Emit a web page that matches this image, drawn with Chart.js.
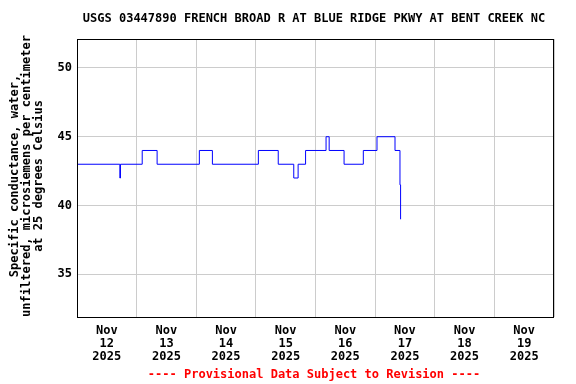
<!DOCTYPE html>
<html>
<head>
<meta charset="utf-8">
<script src="https://cdn.jsdelivr.net/npm/chart.js@4.4.1/dist/chart.umd.min.js"></script>
<style>
html,body{margin:0;padding:0;background:#fff;}
canvas{display:block;}
</style>
</head>
<body>
<canvas id="c" width="576" height="384"></canvas>
<script>
// Data: hours since Nov 12 2025 00:00 and specific conductance values
const hours  = [0, 17.25, 17.5, 26.25, 32.25, 49.25, 54.5, 73, 81, 87.25, 89, 92, 100.25, 101.5, 107.5, 115.25, 120.75, 128, 130, 130.25];
const values = [43, 42, 43, 44, 43, 44, 43, 44, 43, 42, 43, 44, 45, 44, 43, 44, 45, 44, 41.5, 39];
const dayLabels = [
  ['Nov','12','2025'], ['Nov','13','2025'], ['Nov','14','2025'], ['Nov','15','2025'],
  ['Nov','16','2025'], ['Nov','17','2025'], ['Nov','18','2025'], ['Nov','19','2025']
];
const yTicks = [35, 40, 45, 50];
const titleText = 'USGS 03447890 FRENCH BROAD R AT BLUE RIDGE PKWY AT BENT CREEK NC';
const yTitleLines = ['Specific conductance, water,', 'unfiltered, microsiemens per centimeter', 'at 25 degrees Celsius'];
const footerText = '---- Provisional Data Subject to Revision ----';

const FONT = 'bold 12px "DejaVu Sans Mono", "Liberation Mono", monospace';

const textPlugin = {
  id: 'texts',
  afterDraw(chart) {
    const ctx = chart.ctx;
    const a = chart.chartArea;
    ctx.save();
    // frame
    ctx.strokeStyle = '#000';
    ctx.lineWidth = 1;
    ctx.strokeRect(a.left + 0.5, a.top + 0.5, a.right - a.left - 1, a.bottom - a.top);
    ctx.font = FONT;
    ctx.fillStyle = '#000';
    ctx.textAlign = 'center';
    ctx.textBaseline = 'middle';
    ctx.fillText(titleText, 314, 19);
    // y title
    ctx.save();
    ctx.translate(27, 176);
    ctx.rotate(-Math.PI / 2);
    yTitleLines.forEach((t, i) => ctx.fillText(t, 0, (i - 1) * 12));
    ctx.restore();
    // footer
    ctx.fillStyle = '#ff0000';
    ctx.fillText(footerText, 314, 375);
    ctx.restore();
  }
};

new Chart(document.getElementById('c'), {
  type: 'line',
  data: {
    datasets: [{
      data: hours.map((h, i) => ({ x: h, y: values[i] })),
      borderColor: '#0000ff',
      borderWidth: 1,
      pointRadius: 0,
      stepped: true,
      fill: false
    }]
  },
  options: {
    responsive: false,
    animation: false,
    devicePixelRatio: 1,
    layout: { padding: { top: 39, right: 22, left: 0, bottom: 0 } },
    plugins: { legend: { display: false }, tooltip: { enabled: false }, title: { display: false } },
    scales: {
      x: {
        type: 'linear',
        min: 0,
        max: 192,
        border: { display: false },
        grid: {
          drawTicks: false,
          color: (c) => (c.tick && c.tick.value % 24 === 0) ? '#cccccc' : 'rgba(0,0,0,0)'
        },
        afterBuildTicks: (s) => {
          const t = [];
          for (let v = 0; v <= 192; v += 12) t.push({ value: v });
          s.ticks = t;
        },
        ticks: {
          autoSkip: false,
          maxRotation: 0,
          minRotation: 0,
          padding: 8,
          color: '#000',
          font: { family: '"DejaVu Sans Mono", monospace', size: 12, weight: 'bold', lineHeight: 1.05 },
          callback: (v) => (v % 24 === 12) ? dayLabels[(v - 12) / 24] : ''
        },
        afterFit: (s) => { s.height = 67; }
      },
      y: {
        min: 31.9,
        max: 52.1,
        border: { display: false },
        grid: { drawTicks: false, color: '#cccccc' },
        afterBuildTicks: (s) => { s.ticks = yTicks.map(v => ({ value: v })); },
        ticks: {
          padding: 5,
          color: '#000',
          font: { family: '"DejaVu Sans Mono", monospace', size: 12, weight: 'bold' }
        },
        afterFit: (s) => { s.width = 77; }
      }
    }
  },
  plugins: [textPlugin]
});
</script>
</body>
</html>
